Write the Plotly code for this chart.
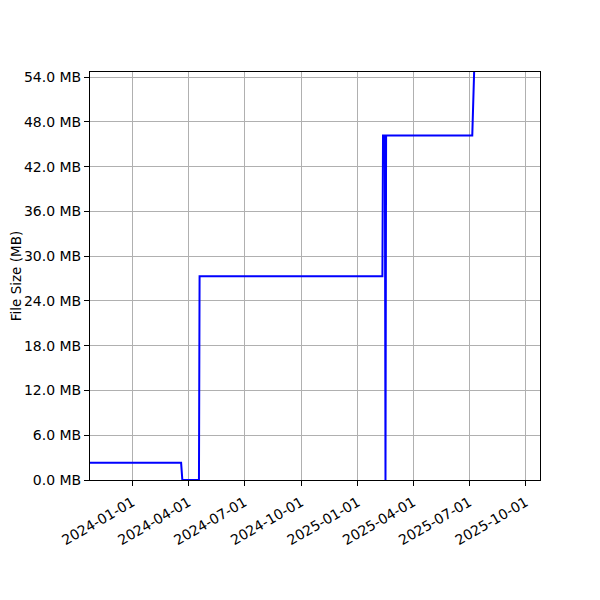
import plotly.graph_objects as go

dates = ["2023-10-24", "2024-03-20", "2024-03-22", "2024-04-18", "2024-04-19",
         "2025-02-10", "2025-02-11", "2025-02-14", "2025-02-15", "2025-02-16",
         "2025-07-06", "2025-07-09"]
sizes_mb = [2.3, 2.3, 0.0, 0.0, 27.3,
            27.3, 46.2, 46.2, 0.0, 46.2,
            46.2, 54.7]

y_ticks = [0, 6, 12, 18, 24, 30, 36, 42, 48, 54]
y_ticktext = [f"{v:.1f} MB" for v in y_ticks]
x_ticks = ["2024-01-01", "2024-04-01", "2024-07-01", "2024-10-01",
           "2025-01-01", "2025-04-01", "2025-07-01", "2025-10-01"]

fig = go.Figure()
fig.add_trace(go.Scatter(x=dates, y=sizes_mb, mode="lines",
                         line=dict(color="#0000ff", width=2), showlegend=False))

font = dict(family="DejaVu Sans", size=14, color="black")
fig.update_layout(
    width=600, height=600,
    margin=dict(l=82, r=68, t=64, b=128, autoexpand=False),
    paper_bgcolor="white", plot_bgcolor="white",
    font=font,
    xaxis=dict(range=["2023-10-24", "2025-10-24"], tickvals=x_ticks, ticktext=x_ticks,
               tickangle=-30, showgrid=True, gridcolor="#b0b0b0", gridwidth=1,
               showline=True, linecolor="black", linewidth=1, mirror=True,
               ticks="outside", ticklen=5, tickcolor="black", zeroline=False,
               tickfont=font, ticklabelstandoff=3),
    yaxis=dict(range=[0, 54.7], tickvals=y_ticks, ticktext=y_ticktext,
               showgrid=True, gridcolor="#b0b0b0", gridwidth=1,
               showline=True, linecolor="black", linewidth=1, mirror=True,
               ticks="outside", ticklen=5, tickcolor="black", zeroline=False,
               tickfont=font,
               title=dict(text="File Size (MB)", font=dict(family="DejaVu Sans", size=13.5, color="black"), standoff=15)),
)
fig.write_html("out.html")
